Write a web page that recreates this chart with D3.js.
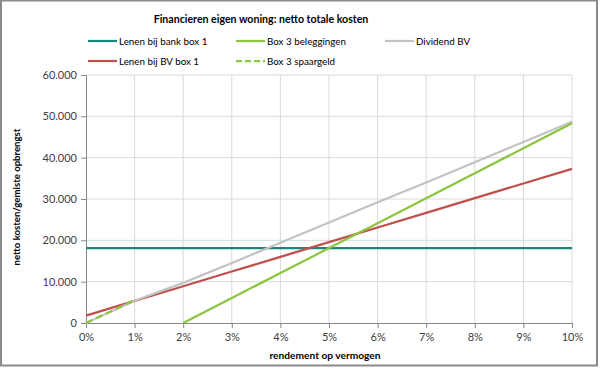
<!DOCTYPE html>
<html><head><meta charset="utf-8">
<script src="https://cdn.jsdelivr.net/npm/d3@7"></script>
<style>body{margin:0;background:#fff}svg{display:block}text{font-family:Lato,"Open Sans",sans-serif}</style>
</head><body><svg id="c" width="600" height="369"></svg>
<script>
const pct = [0,1,2,3,4,5,6,7,8,9,10];
const bankBox1 = [18100,18100,18100,18100,18100,18100,18100,18100,18100,18100,18100];
const bvBox1 = [1800,5350,8900,12450,16000,19550,23100,26650,30200,33750,37300];
const box3Beleggingen = [null,null,0,6040,12080,18120,24160,30200,36240,42280,48300];
const dividendBV = [0,5400,9700,14500,19400,24300,29200,34000,38900,43800,48700];
const box3Spaargeld = [0,5500];
const yTicks = [0,10000,20000,30000,40000,50000,60000];

const series = [
  {name:"Lenen bij bank box 1", vals:bankBox1, color:"#17877c", dash:null},
  {name:"Box 3 beleggingen", vals:box3Beleggingen, color:"#8cc540", dash:null},
  {name:"Dividend BV", vals:dividendBV, color:"#c3c3c3", dash:null},
  {name:"Lenen bij BV box 1", vals:bvBox1, color:"#c0504d", dash:null},
  {name:"Box 3 spaargeld", vals:box3Spaargeld, color:"#8cc540", dash:"7,4"}
];

const svg = d3.select("#c");
svg.append("rect").attr("x",1).attr("y",0.5).attr("width",596).attr("height",365).attr("fill","#fff").attr("stroke","#8a8a8a").attr("stroke-width",2);

const x = d3.scaleLinear().domain([0,10]).range([86,572]);
const y = d3.scaleLinear().domain([0,60000]).range([323,75]);

// grid
const g = svg.append("g");
g.selectAll(".vg").data(pct.slice(1)).join("line")
  .attr("x1",d=>x(d)).attr("x2",d=>x(d)).attr("y1",y(0)).attr("y2",y(60000))
  .attr("stroke","#d9d9d9").attr("stroke-width",1);
g.selectAll(".hg").data(yTicks.slice(1)).join("line")
  .attr("x1",x(0)).attr("x2",x(10)).attr("y1",d=>y(d)).attr("y2",d=>y(d))
  .attr("stroke","#d9d9d9").attr("stroke-width",1);

const fmt = d => d===0 ? "0" : d3.format(",")(d).replace(/,/g,".");
const yAxis = svg.append("g").attr("transform",`translate(${x(0)},0)`)
  .call(d3.axisLeft(y).tickValues(yTicks).tickFormat(fmt).tickSize(5).tickPadding(4));
const xAxis = svg.append("g").attr("transform",`translate(0,${y(0)})`)
  .call(d3.axisBottom(x).tickValues(pct).tickFormat(d=>d+"%").tickSize(5).tickPadding(5));
[yAxis,xAxis].forEach(a=>{
  a.select(".domain").attr("stroke","#868686");
  a.selectAll(".tick line").attr("stroke","#868686");
  a.selectAll("text").attr("fill","#404040").style("font-size","11px").style("font-family","Lato,'Open Sans',sans-serif");
});

const line = d3.line().defined(d=>d[1]!==null).x(d=>x(d[0])).y(d=>y(d[1]));
const order = [0,3,2,1,4];
order.forEach(i=>{
  const s = series[i];
  const pts = s.vals.map((v,j)=>[pct[j],v]);
  svg.append("path").attr("d",line(pts)).attr("fill","none")
    .attr("stroke",s.color).attr("stroke-width",2.25)
    .attr("stroke-dasharray",s.dash);
});

// title
svg.append("text").attr("x",261).attr("y",23).attr("text-anchor","middle")
  .style("font-weight","bold").style("font-size","10.6px").attr("fill","#000")
  .text("Financieren eigen woning: netto totale kosten");

// legend
const leg = [
  {s:0,x:88,y:41},{s:1,x:236,y:41},{s:2,x:385,y:41},
  {s:3,x:88,y:61},{s:4,x:236,y:61}
];
leg.forEach(l=>{
  const s = series[l.s];
  svg.append("line").attr("x1",l.x).attr("x2",l.x+29).attr("y1",l.y).attr("y2",l.y)
    .attr("stroke",s.color).attr("stroke-width",2.25).attr("stroke-dasharray",s.dash?"6,3":null);
  svg.append("text").attr("x",l.x+31).attr("y",l.y+3.5).style("font-size","9.8px").attr("fill","#000")
    .text(s.name);
});

// axis titles
svg.append("text").attr("x",325).attr("y",359).attr("text-anchor","middle")
  .style("font-weight","bold").style("font-size","10.2px").text("rendement op vermogen");
svg.append("text").attr("transform","translate(20,197) rotate(-90)").attr("text-anchor","middle")
  .style("font-weight","bold").style("font-size","9.6px").text("netto kosten/gemiste opbrengst");
</script></body></html>
